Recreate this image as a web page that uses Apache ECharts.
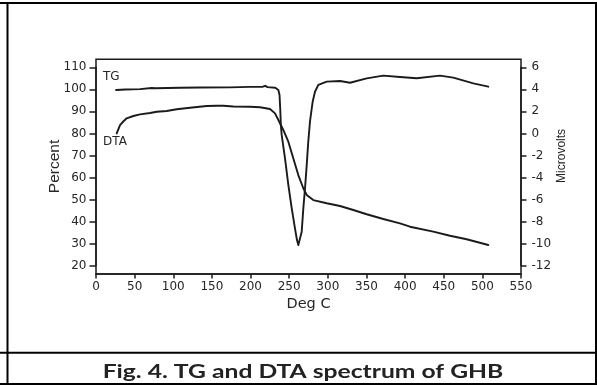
<!DOCTYPE html>
<html>
<head>
<meta charset="utf-8">
<title>TG and DTA spectrum of GHB</title>
<script src="https://cdn.jsdelivr.net/npm/echarts@6/dist/echarts.min.js"></script>
<style>
  html, body { margin: 0; padding: 0; background: #ffffff; }
  #chart { width: 597px; height: 385px; }
</style>
</head>
<body>
<div id="chart"></div>
<script>
// Temperature axis (deg C)
const tempTicks = { min: 0, max: 550, step: 50 };
// Left axis: mass percent
const percentTicks = { min: 20, max: 110, step: 10 };
// Right axis: DTA signal in microvolts
const microvoltTicks = { min: -12, max: 6, step: 2 };

// TG trace (Percent)
const tgTemp = [26, 38, 57, 72, 74, 77, 109, 135, 173, 199,
  216, 219, 222, 232, 236, 237.5, 238.5, 239.2, 240.3, 244.6,
  248.9, 253.3, 257.5, 260.1, 261.8, 263.4, 266.2, 268.3, 270.5, 272.7,
  274.7, 276.9, 280.4, 283.4, 287.7, 298.6, 315.8, 328.7, 350.3, 371.8,
  393.4, 415, 445.2, 462.4, 488.3, 507.7];
const tgPercent = [99.7, 99.9, 100.1, 100.6, 101.3, 100.5, 100.7, 100.8, 100.9, 101.1,
  101.2, 101.6, 101.0, 100.7, 99.7, 97.4, 90.6, 83.8, 79.3, 68.7,
  56.6, 46.0, 36.9, 31.6, 29.3, 30.2, 35.4, 46.0, 55.1, 65.7,
  76.2, 85.3, 94.4, 98.9, 102.0, 103.5, 103.8, 103.0, 105.0, 106.2,
  105.6, 105.0, 106.2, 105.3, 102.7, 101.2];

// DTA trace (Microvolts)
const dtaTemp = [26.8, 31.1, 35.3, 39.7, 48.3, 56.9, 69.9, 78.6, 91.5, 104.4,
  121.7, 143.3, 156.2, 164.7, 177.7, 199.3, 212.2, 225.2, 231.7, 238.1,
  242.4, 248.9, 255.3, 261.8, 268.3, 272.7, 281.2, 298.6, 315.8, 333,
  350.3, 371.8, 393.4, 406.3, 436.5, 458.1, 479.7, 507.7];
const dtaMicrovolts = [0.0, 0.76, 1.08, 1.37, 1.58, 1.73, 1.85, 1.97, 2.03, 2.19,
  2.33, 2.49, 2.51, 2.51, 2.44, 2.42, 2.37, 2.21, 1.82, 0.92,
  0.31, -0.75, -2.26, -3.78, -4.98, -5.59, -6.05, -6.34, -6.59, -6.95,
  -7.34, -7.77, -8.16, -8.47, -8.92, -9.29, -9.61, -10.13];

const captionText = 'Fig. 4. TG and DTA spectrum of GHB';

const pairs = (xs, ys) => xs.map((x, i) => [x, ys[i]]);

const ink = '#1b1b1b';
const labelInk = '#262626';
const tickFont = 'DejaVu Sans';
const titleFont = 'Liberation Sans';

const chart = echarts.init(document.getElementById('chart'), null, { renderer: 'canvas' });

const tableLine = (x1, y1, x2, y2) => ({
  type: 'line',
  shape: { x1, y1, x2, y2 },
  style: { stroke: '#000', lineWidth: 2 },
  silent: true
});

const frameLine = { show: true, onZero: false, lineStyle: { color: ink, width: 1.5 } };
const tickStyle = { color: ink, width: 1.5 };

chart.setOption({
  backgroundColor: '#ffffff',
  animation: false,
  grid: [
    // plot frame
    { left: 96, top: 59.3, width: 425, height: 214.7, show: true,
      borderColor: ink, borderWidth: 1.5, backgroundColor: 'transparent' },
    // data area (20..110 % and -12..6 uV)
    { left: 96, top: 67.3, width: 425, height: 198.3 }
  ],
  xAxis: [
    { gridIndex: 0, type: 'value', show: false, min: 0, max: 1 },
    {
      gridIndex: 1, type: 'value', position: 'bottom', offset: 8.4,
      min: tempTicks.min, max: tempTicks.max, interval: tempTicks.step,
      axisLine: frameLine,
      axisTick: { show: true, inside: false, length: 4.5, lineStyle: tickStyle },
      axisLabel: { margin: 7, fontFamily: tickFont, fontSize: 12, color: labelInk },
      splitLine: { show: false },
      name: 'Deg C', nameLocation: 'middle', nameGap: 23, nameMoveOverlap: false,
      nameTextStyle: { fontFamily: tickFont, fontSize: 14.5, color: labelInk }
    }
  ],
  yAxis: [
    { gridIndex: 0, type: 'value', show: false, min: 0, max: 1 },
    {
      gridIndex: 1, type: 'value', position: 'left',
      min: percentTicks.min, max: percentTicks.max, interval: percentTicks.step,
      axisLine: frameLine,
      axisTick: { show: true, length: 6.5, lineStyle: tickStyle },
      axisLabel: { margin: 9.5, fontFamily: tickFont, fontSize: 12, color: labelInk },
      splitLine: { show: false },
      name: 'Percent', nameLocation: 'middle', nameGap: 33, nameMoveOverlap: false,
      nameTextStyle: { fontFamily: titleFont, fontSize: 15.5, color: labelInk }
    },
    {
      gridIndex: 1, type: 'value', position: 'right',
      min: microvoltTicks.min, max: microvoltTicks.max, interval: microvoltTicks.step,
      axisLine: frameLine,
      axisTick: { show: true, length: 5.5, lineStyle: tickStyle },
      axisLabel: { margin: 10.5, fontFamily: tickFont, fontSize: 12, color: labelInk },
      splitLine: { show: false },
      name: 'Microvolts', nameLocation: 'middle', nameGap: 35, nameMoveOverlap: false,
      nameTextStyle: { fontFamily: titleFont, fontSize: 12, color: labelInk, padding: [0, 0, 0, 21] }
    }
  ],
  series: [
    {
      name: 'TG', type: 'line', xAxisIndex: 1, yAxisIndex: 1,
      data: pairs(tgTemp, tgPercent),
      showSymbol: false, symbol: 'none', clip: false,
      lineStyle: { color: ink, width: 1.9, join: 'round', cap: 'round' }
    },
    {
      name: 'DTA', type: 'line', xAxisIndex: 1, yAxisIndex: 2,
      data: pairs(dtaTemp, dtaMicrovolts),
      showSymbol: false, symbol: 'none', clip: false,
      lineStyle: { color: ink, width: 1.9, join: 'round', cap: 'round' }
    }
  ],
  graphic: [
    // table cell borders
    tableLine(0, 3, 597, 3),
    tableLine(7.5, 2, 7.5, 385),
    tableLine(596, 2, 596, 385),
    tableLine(0, 352.7, 597, 352.7),
    tableLine(0, 384, 597, 384),
    // curve labels
    { type: 'text', left: 103, top: 71, silent: true,
      style: { text: 'TG', font: '12px "DejaVu Sans"', fill: labelInk } },
    { type: 'text', left: 103, top: 135.5, silent: true,
      style: { text: 'DTA', font: '12px "DejaVu Sans"', fill: labelInk } },
    // caption, set in a wide bold face
    { type: 'text', x: 303, y: 372, scaleX: 1.37, silent: true,
      style: { text: captionText, font: 'bold 18px Lato', fill: '#222',
               textAlign: 'center', textVerticalAlign: 'middle' } }
  ]
});
</script>
</body>
</html>
